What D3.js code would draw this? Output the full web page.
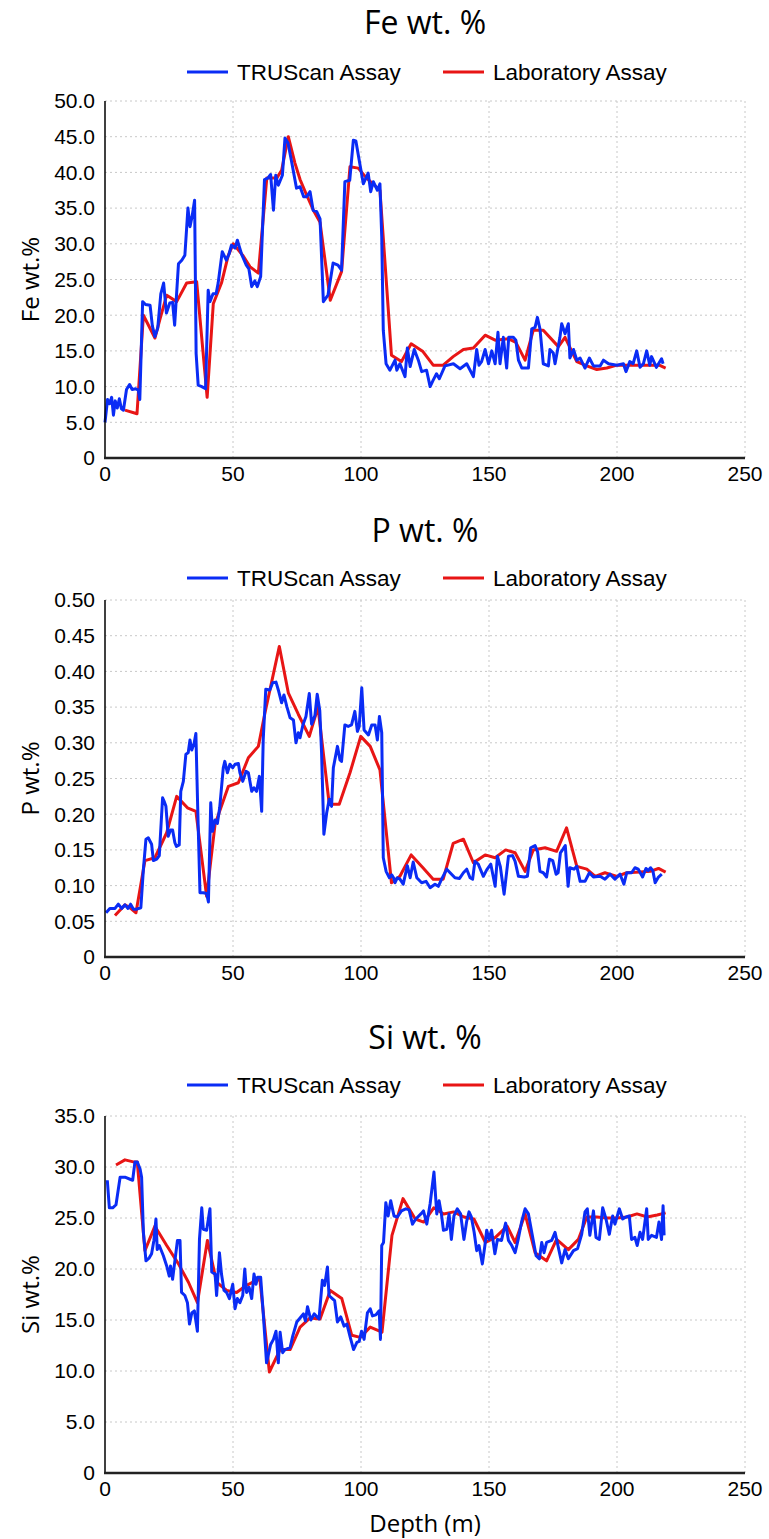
<!DOCTYPE html>
<html>
<head>
<meta charset="utf-8" />
<script src="https://d3js.org/d3.v7.min.js"></script>
<style>
  body { margin: 0; padding: 0; background: #ffffff; }
  .tick-label { font-family: "Liberation Sans", Arial, sans-serif; font-size: 21px; fill: #000; }
  .legend-label { font-family: "Liberation Sans", Arial, sans-serif; font-size: 22.5px; fill: #000; }
  .axis-title { font-family: "Open Sans", "Noto Sans", sans-serif; font-size: 24px; fill: #000; }
  .chart-title { font-family: "Open Sans", "Noto Sans", sans-serif; font-size: 32px; fill: #000; }
</style>
</head>
<body>
<svg id="chart" width="769" height="1539"></svg>
<script>
// ---- data: [depth (m), value] ----
const xTicks = [0, 50, 100, 150, 200, 250];
const seriesNames = ["TRUScan Assay", "Laboratory Assay"];

const feTicks = [0, 5, 10, 15, 20, 25, 30, 35, 40, 45, 50];
const feTruscan = [[0.0,5.0],[1.0,8.2],[1.8,7.6],[2.6,8.5],[3.3,6.0],[4.0,8.0],[4.8,7.0],[5.6,8.3],[6.4,6.9],[7.2,6.7],[8.4,9.6],[9.6,10.3],[10.6,9.6],[12.0,9.7],[13.0,9.5],[13.6,8.2],[14.7,21.9],[15.8,21.5],[17.6,21.4],[18.5,18.5],[19.5,17.0],[20.6,18.2],[21.8,23.0],[22.9,24.5],[24.0,20.3],[25.3,21.7],[26.4,21.8],[27.2,18.6],[28.7,27.2],[30.0,27.7],[31.2,28.4],[32.4,35.0],[33.2,32.4],[34.0,33.8],[35.0,36.1],[35.6,14.6],[36.4,10.2],[37.8,10.0],[39.3,9.7],[40.3,23.5],[41.0,21.9],[42.2,23.0],[43.4,23.0],[44.2,24.5],[45.8,28.9],[47.4,27.7],[48.4,28.5],[49.4,29.8],[50.8,29.4],[51.7,30.5],[53.3,28.6],[55.2,27.0],[56.2,26.5],[57.3,24.0],[58.5,24.8],[59.5,24.0],[60.8,25.4],[62.3,39.0],[63.6,39.2],[64.7,39.7],[65.8,34.7],[66.7,39.6],[67.7,38.2],[69.3,39.6],[70.3,44.8],[71.5,44.1],[72.9,41.5],[74.8,37.8],[76.2,38.0],[77.6,36.6],[78.8,36.6],[80.1,37.3],[81.3,34.7],[82.7,34.5],[84.0,33.5],[85.3,21.9],[87.1,22.8],[89.1,27.3],[91.0,27.0],[92.4,26.3],[93.7,38.7],[95.6,38.9],[97.0,44.5],[98.0,44.4],[99.3,41.7],[100.9,38.4],[102.8,39.9],[103.8,37.3],[104.8,38.7],[106.4,37.5],[107.4,38.4],[108.1,31.0],[108.7,17.9],[109.8,13.2],[111.3,12.3],[112.3,13.0],[113.3,13.7],[114.0,12.3],[115.2,13.2],[117.2,11.4],[118.1,15.4],[119.2,12.8],[120.8,15.2],[122.4,13.7],[123.7,12.1],[125.6,12.3],[127.0,10.0],[128.2,10.9],[129.5,11.8],[130.6,11.1],[132.8,12.9],[136.1,13.2],[138.7,12.5],[141.3,13.2],[143.9,11.4],[145.2,15.2],[146.1,13.0],[147.1,13.5],[148.5,15.2],[149.8,13.2],[151.1,15.0],[152.4,13.2],[153.5,17.6],[154.3,13.2],[155.6,16.9],[156.9,12.6],[157.7,16.9],[159.5,16.9],[160.5,16.5],[161.5,13.7],[162.8,12.6],[164.1,12.6],[165.4,12.6],[166.7,18.1],[168.0,18.3],[168.9,19.7],[169.9,18.1],[171.2,13.2],[173.2,12.9],[173.8,15.2],[175.1,14.7],[175.8,13.2],[177.7,16.9],[178.4,18.8],[179.7,17.4],[181.0,18.8],[181.6,14.0],[183.0,15.2],[184.3,13.7],[185.6,14.0],[187.5,12.6],[189.2,14.0],[190.8,12.9],[193.4,12.9],[194.7,13.7],[196.7,13.2],[200.0,13.0],[202.5,13.2],[203.5,12.1],[205.0,13.5],[206.3,13.2],[207.7,15.0],[209.0,12.7],[210.3,13.2],[211.6,15.0],[212.8,13.0],[213.5,14.2],[215.4,12.7],[217.4,13.9],[218.0,13.2]];
const feLab = [[7.8,6.7],[12.5,6.2],[15.0,20.0],[19.5,16.8],[21.5,19.5],[24.1,22.8],[28.0,21.9],[31.9,24.5],[35.8,24.7],[39.9,8.5],[42.3,21.6],[45.5,24.5],[48.1,28.3],[50.1,30.0],[54.0,28.3],[56.6,26.8],[59.9,25.9],[63.2,39.2],[67.1,39.2],[69.0,40.3],[71.6,45.0],[74.2,41.3],[76.2,39.0],[78.8,36.8],[81.4,34.7],[84.0,33.0],[88.0,22.1],[92.4,26.1],[95.7,40.8],[98.9,40.6],[102.2,39.2],[107.4,37.5],[111.9,14.4],[115.8,13.5],[119.6,16.0],[124.2,14.9],[128.2,13.0],[132.1,13.0],[136.0,14.2],[140.0,15.2],[143.9,15.4],[148.5,17.2],[152.4,16.5],[157.6,16.7],[160.5,16.2],[164.1,13.7],[167.3,17.9],[171.2,17.9],[177.1,15.6],[179.7,16.9],[184.3,13.5],[188.2,12.9],[192.1,12.4],[196.0,12.6],[200.0,13.0],[206.5,13.0],[213.0,13.0],[216.5,13.0],[219.0,12.6]];

const pTicks = [0, 0.05, 0.1, 0.15, 0.2, 0.25, 0.3, 0.35, 0.4, 0.45, 0.5];
const pTruscan = [[0.4,0.062],[1.9,0.068],[3.9,0.068],[5.2,0.074],[6.5,0.068],[7.8,0.073],[9.0,0.068],[10.0,0.074],[11.1,0.067],[12.4,0.067],[14.0,0.069],[15.0,0.123],[16.0,0.165],[16.9,0.167],[18.2,0.158],[18.9,0.135],[20.2,0.137],[21.2,0.142],[22.5,0.223],[23.1,0.218],[23.8,0.211],[24.7,0.169],[25.6,0.178],[26.4,0.178],[27.3,0.160],[27.9,0.155],[29.0,0.157],[29.6,0.232],[30.6,0.246],[31.6,0.284],[32.5,0.286],[33.2,0.304],[33.9,0.290],[34.8,0.299],[35.5,0.313],[36.2,0.211],[37.1,0.090],[38.4,0.090],[39.7,0.089],[40.4,0.077],[41.3,0.216],[42.0,0.176],[43.0,0.192],[43.9,0.187],[44.8,0.209],[46.2,0.265],[46.8,0.274],[47.8,0.258],[48.8,0.270],[49.9,0.265],[50.8,0.270],[52.1,0.271],[52.7,0.258],[53.8,0.246],[55.1,0.260],[56.0,0.258],[57.3,0.232],[58.2,0.237],[59.2,0.232],[60.3,0.253],[61.2,0.204],[61.8,0.304],[62.8,0.375],[64.4,0.374],[65.5,0.384],[66.8,0.385],[67.7,0.374],[69.0,0.356],[69.9,0.367],[71.0,0.351],[72.3,0.335],[73.6,0.332],[74.6,0.300],[75.5,0.314],[76.2,0.307],[77.3,0.325],[78.5,0.337],[79.8,0.369],[80.7,0.326],[82.0,0.338],[82.9,0.368],[83.9,0.345],[84.6,0.286],[85.5,0.172],[86.6,0.202],[87.6,0.221],[88.5,0.211],[89.2,0.265],[90.8,0.295],[91.8,0.276],[92.4,0.274],[93.7,0.325],[95.0,0.323],[96.3,0.325],[97.6,0.344],[98.6,0.316],[99.3,0.323],[100.3,0.377],[101.2,0.318],[102.9,0.311],[104.2,0.325],[105.5,0.325],[106.4,0.304],[107.2,0.337],[108.1,0.314],[108.7,0.139],[109.8,0.120],[111.1,0.111],[112.0,0.115],[112.7,0.111],[113.3,0.104],[114.2,0.111],[115.2,0.109],[116.5,0.102],[118.1,0.128],[119.2,0.111],[120.4,0.133],[121.8,0.111],[123.7,0.104],[125.4,0.106],[127.0,0.097],[128.9,0.102],[130.2,0.099],[131.5,0.109],[133.5,0.123],[134.8,0.118],[136.7,0.111],[138.5,0.110],[140.0,0.118],[141.3,0.123],[142.6,0.111],[143.6,0.109],[144.5,0.134],[145.8,0.130],[147.8,0.113],[149.1,0.122],[150.7,0.130],[152.4,0.099],[153.3,0.141],[154.4,0.127],[155.9,0.088],[157.6,0.141],[159.2,0.142],[160.2,0.134],[161.5,0.113],[163.8,0.112],[165.0,0.113],[166.3,0.153],[168.0,0.156],[169.0,0.147],[169.9,0.120],[171.2,0.118],[172.5,0.112],[173.6,0.137],[174.9,0.135],[176.2,0.116],[177.0,0.118],[177.9,0.146],[178.9,0.151],[179.8,0.156],[180.9,0.099],[181.6,0.125],[183.2,0.123],[184.3,0.127],[185.6,0.106],[187.5,0.106],[189.2,0.118],[190.8,0.112],[193.4,0.113],[195.3,0.109],[197.3,0.116],[199.2,0.109],[201.2,0.116],[202.7,0.102],[203.8,0.118],[205.7,0.118],[207.0,0.125],[208.3,0.123],[210.0,0.112],[211.3,0.124],[212.2,0.121],[213.1,0.125],[214.0,0.121],[214.9,0.104],[216.2,0.112],[217.5,0.116]];
const pLab = [[3.9,0.058],[7.8,0.073],[9.8,0.069],[12.1,0.062],[15.6,0.135],[19.5,0.139],[24.1,0.174],[28.0,0.225],[32.2,0.209],[35.5,0.204],[39.7,0.085],[43.0,0.186],[48.2,0.239],[52.1,0.244],[56.0,0.279],[59.9,0.295],[62.5,0.342],[68.1,0.435],[71.6,0.370],[75.5,0.340],[79.8,0.309],[83.2,0.350],[87.6,0.214],[91.5,0.214],[95.7,0.258],[99.9,0.309],[103.6,0.295],[107.4,0.262],[111.9,0.104],[115.2,0.113],[119.6,0.143],[124.2,0.125],[128.2,0.109],[132.1,0.109],[136.0,0.159],[140.0,0.165],[143.9,0.132],[148.5,0.143],[152.4,0.139],[156.5,0.150],[160.2,0.146],[164.1,0.120],[167.3,0.150],[171.9,0.153],[176.4,0.148],[180.3,0.181],[184.3,0.127],[188.2,0.123],[191.5,0.113],[195.3,0.118],[200.0,0.113],[203.8,0.118],[209.0,0.119],[213.0,0.120],[216.2,0.124],[219.0,0.119]];

const siTicks = [0, 5, 10, 15, 20, 25, 30, 35];
const siTruscan = [[0.9,28.7],[1.7,26.0],[3.0,26.0],[4.3,26.3],[5.9,29.0],[7.8,29.0],[9.8,28.8],[10.8,28.7],[11.7,30.5],[12.6,30.5],[13.7,29.8],[14.3,29.0],[15.0,23.6],[16.0,20.8],[17.3,21.1],[18.2,21.5],[19.1,22.8],[19.9,24.9],[20.4,21.9],[21.2,22.3],[22.8,21.3],[24.1,20.3],[25.1,19.3],[25.6,20.3],[26.4,19.0],[27.3,20.8],[28.3,22.8],[29.3,22.8],[29.9,17.7],[31.2,17.4],[32.2,16.7],[33.0,14.6],[33.9,15.7],[34.9,15.9],[36.1,13.9],[36.9,22.9],[37.8,26.0],[38.4,23.9],[39.7,23.8],[41.0,25.9],[41.7,19.7],[43.0,19.5],[43.6,17.4],[44.7,21.6],[45.5,19.5],[46.5,17.9],[47.5,17.7],[48.6,17.1],[49.9,18.5],[50.8,16.1],[51.7,17.1],[52.7,16.7],[53.8,17.4],[54.6,20.0],[55.3,17.7],[56.3,18.2],[57.3,17.1],[58.2,19.5],[59.0,18.5],[59.6,19.2],[60.8,19.2],[61.8,15.7],[63.1,10.8],[64.7,12.6],[65.8,13.1],[66.8,13.9],[67.7,10.8],[68.4,13.8],[69.4,11.8],[70.3,12.1],[72.3,12.3],[73.3,13.4],[74.9,14.8],[76.2,15.2],[77.5,15.6],[78.3,14.9],[79.1,16.3],[80.4,15.0],[81.7,15.6],[83.6,15.1],[84.9,18.9],[85.8,18.4],[86.9,20.2],[87.5,17.4],[88.8,17.1],[89.7,16.9],[90.8,14.8],[92.1,15.3],[93.4,14.4],[94.5,14.6],[95.8,13.3],[97.1,12.1],[98.4,12.8],[99.3,12.9],[100.2,13.9],[101.2,13.1],[102.5,15.7],[103.6,16.1],[104.5,15.4],[105.8,15.5],[107.1,15.9],[107.6,13.1],[108.1,22.3],[108.8,22.6],[109.7,26.5],[110.6,25.2],[111.6,26.7],[112.9,25.2],[114.2,25.1],[115.8,25.7],[117.5,25.9],[118.8,25.8],[120.1,24.4],[121.4,24.9],[123.4,25.4],[124.4,25.7],[125.7,24.4],[127.0,26.4],[128.5,29.5],[129.6,25.4],[130.5,26.7],[131.4,25.4],[132.2,23.8],[133.5,23.9],[134.4,25.4],[135.3,22.9],[136.3,25.2],[137.6,25.9],[138.9,25.4],[140.2,22.9],[141.3,24.7],[142.2,25.6],[143.1,25.1],[144.2,23.6],[145.2,21.8],[146.1,22.3],[147.4,20.5],[148.4,22.3],[149.1,23.8],[150.0,22.9],[151.0,23.8],[152.3,21.5],[153.3,22.9],[154.9,22.8],[155.6,23.6],[156.5,24.5],[157.6,22.8],[158.9,22.3],[160.2,21.6],[161.4,22.9],[162.8,24.7],[164.1,25.9],[165.4,25.4],[166.7,23.6],[168.4,21.3],[169.7,21.0],[170.6,22.6],[171.5,21.6],[172.5,22.6],[174.5,22.8],[175.8,23.6],[177.1,22.1],[178.4,20.6],[179.7,21.9],[181.0,21.0],[183.0,21.8],[184.6,22.0],[186.2,23.4],[187.5,25.6],[188.4,25.9],[189.4,23.3],[190.8,25.7],[191.8,23.1],[193.1,22.9],[194.4,26.0],[195.7,24.9],[197.0,23.4],[198.3,25.2],[199.2,24.4],[200.9,25.9],[202.2,24.9],[203.5,25.1],[204.8,25.2],[205.7,22.9],[207.0,23.1],[207.9,22.3],[209.0,23.6],[210.0,22.9],[211.6,25.9],[212.2,22.9],[213.5,23.3],[215.4,23.1],[216.4,24.6],[217.4,22.9],[218.0,26.2],[218.4,23.3]];
const siLab = [[4.3,30.2],[7.8,30.7],[11.1,30.5],[12.6,30.5],[15.6,21.8],[19.5,24.2],[24.1,22.3],[28.7,20.5],[32.6,18.7],[36.1,16.7],[40.0,22.8],[43.6,18.7],[47.5,17.9],[51.4,17.7],[55.3,18.4],[59.2,18.9],[60.5,19.0],[64.2,9.9],[68.4,12.1],[72.3,12.1],[76.2,14.3],[80.1,15.2],[84.0,15.1],[88.0,17.9],[92.5,17.1],[96.4,13.5],[99.7,13.3],[103.6,14.3],[108.2,13.8],[112.1,23.3],[116.4,26.9],[121.2,24.9],[124.5,24.6],[128.4,26.0],[132.3,25.4],[136.2,25.6],[140.2,25.1],[144.1,24.9],[148.6,22.6],[152.5,23.1],[157.1,24.2],[160.2,22.6],[164.1,25.4],[168.0,21.6],[172.5,20.8],[176.4,22.9],[181.0,21.9],[184.9,22.9],[188.2,25.1],[192.1,25.1],[196.0,25.0],[200.0,25.0],[203.9,25.1],[207.8,25.4],[211.8,25.1],[215.7,25.3],[219.0,25.5]];

// ---- layout ----
const colors = { truscan: "#0a2cf5", lab: "#e81515" };
const plotLeft = 105, plotRight = 745, plotH = 357;

const panels = [
  { title: "Fe wt. %", yLabel: "Fe wt.%", top: 101, titleY: 22, legendY: 72, ticks: feTicks, fmt: d => d === 0 ? "0" : d3.format(".1f")(d), truscan: feTruscan, lab: feLab },
  { title: "P wt. %", yLabel: "P wt.%", top: 600, titleY: 530, legendY: 578, ticks: pTicks, fmt: d => d === 0 ? "0" : d3.format(".2f")(d), truscan: pTruscan, lab: pLab },
  { title: "Si wt. %", yLabel: "Si wt.%", top: 1116, titleY: 1037, legendY: 1085, ticks: siTicks, fmt: d => d === 0 ? "0" : d3.format(".1f")(d), truscan: siTruscan, lab: siLab }
];

const svg = d3.select("#chart");
const x = d3.scaleLinear().domain([0, 250]).range([plotLeft, plotRight]);
const midX = (plotLeft + plotRight) / 2;

panels.forEach((p, i) => {
  const yMax = p.ticks[p.ticks.length - 1];
  const y = d3.scaleLinear().domain([0, yMax]).range([p.top + plotH, p.top]);
  const g = svg.append("g");

  // gridlines
  g.selectAll(".hgrid").data(p.ticks.filter(t => t > 0)).enter().append("line")
    .attr("x1", plotLeft).attr("x2", plotRight)
    .attr("y1", d => y(d)).attr("y2", d => y(d))
    .attr("stroke", "#c8c8c8").attr("stroke-width", 1).attr("stroke-dasharray", "2,3");
  g.selectAll(".vgrid").data(xTicks.filter(t => t > 0)).enter().append("line")
    .attr("x1", d => x(d)).attr("x2", d => x(d))
    .attr("y1", p.top).attr("y2", p.top + plotH)
    .attr("stroke", "#c8c8c8").attr("stroke-width", 1).attr("stroke-dasharray", "2,3");

  // series
  const line = d3.line().x(d => x(d[0])).y(d => y(d[1]));
  g.append("path").datum(p.lab).attr("d", line)
    .attr("fill", "none").attr("stroke", colors.lab).attr("stroke-width", 3).attr("stroke-linejoin", "round");
  g.append("path").datum(p.truscan).attr("d", line)
    .attr("fill", "none").attr("stroke", colors.truscan).attr("stroke-width", 3).attr("stroke-linejoin", "round");

  // axes lines
  g.append("line").attr("x1", plotLeft).attr("x2", plotLeft)
    .attr("y1", p.top).attr("y2", p.top + plotH).attr("stroke", "#000").attr("stroke-width", 1.5);
  g.append("line").attr("x1", plotLeft - 1).attr("x2", plotRight)
    .attr("y1", p.top + plotH).attr("y2", p.top + plotH).attr("stroke", "#222").attr("stroke-width", 2.5);

  // tick labels
  g.selectAll(".ylab").data(p.ticks).enter().append("text")
    .attr("class", "tick-label")
    .attr("x", plotLeft - 10).attr("y", d => y(d)).attr("dy", "0.35em")
    .attr("text-anchor", "end").text(p.fmt);
  g.selectAll(".xlab").data(xTicks).enter().append("text")
    .attr("class", "tick-label")
    .attr("x", d => x(d)).attr("y", p.top + plotH + 16).attr("dy", "0.35em")
    .attr("text-anchor", "middle").text(d => d);

  // y axis title
  g.append("text").attr("class", "axis-title")
    .attr("transform", `translate(31,${p.top + plotH / 2}) rotate(-90)`)
    .attr("text-anchor", "middle").attr("dy", "0.35em").text(p.yLabel);

  // chart title
  g.append("text").attr("class", "chart-title")
    .attr("x", midX).attr("y", p.titleY).attr("dy", "0.36em")
    .attr("text-anchor", "middle").text(p.title);

  // legend
  const leg = [
    { name: seriesNames[0], color: colors.truscan, x0: 187 },
    { name: seriesNames[1], color: colors.lab, x0: 443 }
  ];
  leg.forEach(l => {
    g.append("line").attr("x1", l.x0).attr("x2", l.x0 + 41)
      .attr("y1", p.legendY).attr("y2", p.legendY)
      .attr("stroke", l.color).attr("stroke-width", 3);
    g.append("text").attr("class", "legend-label")
      .attr("x", l.x0 + 50).attr("y", p.legendY).attr("dy", "0.35em").text(l.name);
  });
});

// x axis title (bottom panel only)
svg.append("text").attr("class", "axis-title")
  .attr("x", midX).attr("y", 1524).attr("dy", "0.35em")
  .attr("text-anchor", "middle").style("font-size", "24px").text("Depth (m)");
</script>
</body>
</html>
